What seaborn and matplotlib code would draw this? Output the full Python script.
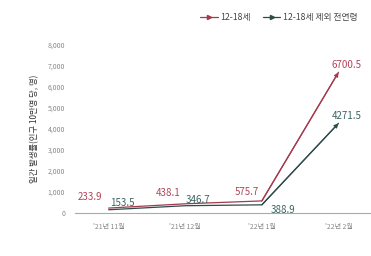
import pandas as pd
import matplotlib.pyplot as plt
import seaborn as sns
from matplotlib.lines import Line2D

months = ["'21년 11월", "'21년 12월", "'22년 1월", "'22년 2월"]
teen = [233.9, 438.1, 575.7, 6700.5]
others = [153.5, 346.7, 388.9, 4271.5]
series_names = ['12-18세', '12-18세 제외 전연령']
colors = ['#a33a4e', '#2e4b4a']
label_colors = ['#b04458', '#3a6360']

sns.set_theme(style='white')
plt.rcParams['font.family'] = ['Noto Sans CJK KR', 'DejaVu Sans']

df = pd.DataFrame({
    'x': list(range(len(months))) * 2,
    'rate': teen + others,
    'group': [series_names[0]] * len(teen) + [series_names[1]] * len(others),
})

fig = plt.figure(figsize=(3.71, 2.56), dpi=100)
ax = fig.add_axes([0.202, 0.168, 0.795, 0.656])
sns.lineplot(data=df, x='x', y='rate', hue='group', palette=colors,
             linewidth=0.9, legend=False, ax=ax)

# arrowheads on the last segment
for vals, c in zip([teen, others], colors):
    ax.annotate('', xy=(3, vals[3]), xytext=(2, vals[2]),
                arrowprops=dict(arrowstyle='-|>', color=c, lw=0.9,
                                mutation_scale=6, shrinkA=0, shrinkB=0))

# value labels (offsets from each point)
offs_teen = [(-0.25, 530), (-0.23, 515), (-0.2, 425), (0.11, 345)]
offs_oth = [(0.18, 320), (0.16, 270), (0.27, -245), (0.11, 345)]
for i, v in enumerate(teen):
    ax.text(i + offs_teen[i][0], v + offs_teen[i][1], f'{v}', color=label_colors[0],
            fontsize=7, ha='center', va='center')
for i, v in enumerate(others):
    ax.text(i + offs_oth[i][0], v + offs_oth[i][1], f'{v}', color=label_colors[1],
            fontsize=7, ha='center', va='center')

ax.set_xlim(-0.44, 3.41)
ax.set_ylim(0, 8000)
ax.set_xticks(range(len(months)))
ax.set_xticklabels(months)
ax.set_yticks(range(0, 8001, 1000))
ax.set_yticklabels([f'{t:,}' for t in range(0, 8001, 1000)])
ax.tick_params(axis='both', labelsize=5, colors='#888888', length=0, pad=7)
ax.set_xlabel('')
ax.set_ylabel('일간 발생률(인구 10만명 당, 명)', fontsize=6, color='#333333', labelpad=6)
for s in ['top', 'right', 'left']:
    ax.spines[s].set_visible(False)
ax.spines['bottom'].set_color('#aaaaaa')
ax.spines['bottom'].set_linewidth(0.8)

handles = [Line2D([0], [0], color=c, lw=0.9, marker='>', markevery=[1],
                  markersize=3) for c in colors]
fig.legend(handles, series_names, loc='center right', bbox_to_anchor=(0.985, 0.933),
           ncol=2, frameon=False, fontsize=6.3, handlelength=2.0,
           columnspacing=1.4, handletextpad=0.3, labelcolor='#444444')

fig.savefig('out.png', dpi=100)
